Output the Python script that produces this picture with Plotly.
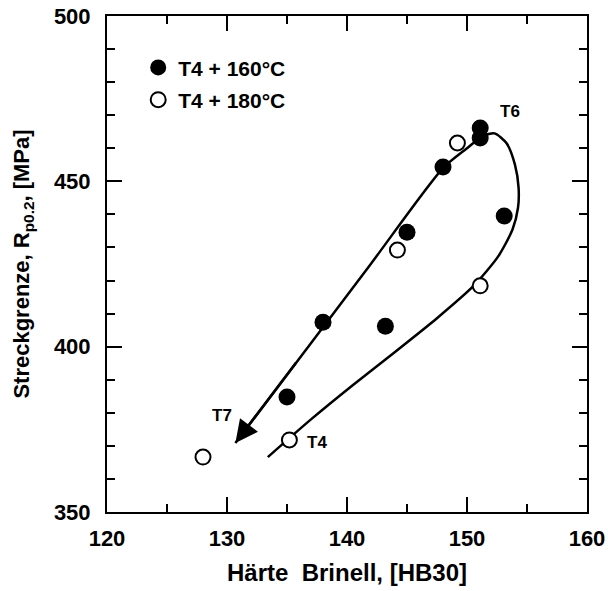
import plotly.graph_objects as go

# --- data ---
hb_160 = [135.0, 138.0, 143.2, 145.0, 148.0, 151.1, 151.1, 153.1]
rp_160 = [384.8, 407.4, 406.2, 434.6, 454.3, 466.1, 463.1, 439.5]

hb_180 = [128.0, 135.2, 144.2, 149.2, 151.1]
rp_180 = [366.6, 371.8, 429.2, 461.6, 418.4]

# guide curve (from T4 around the T6 loop down towards T7; last point = arrow tip)
curve_x = [133.4, 137.0, 140.5, 144.0, 147.5, 150.5, 152.6, 153.8, 154.25,
           154.3, 154.0, 153.3, 152.3, 151.3, 150.0, 148.0, 142.0, 136.0, 130.7]
curve_y = [366.6, 378.0, 388.4, 398.4, 408.6, 418.2, 427.3, 435.5, 442.0,
           448.0, 455.0, 461.5, 464.5, 463.7, 460.0, 454.0, 425.1, 396.3, 370.9]

labels = ["T6", "T7", "T4"]
label_x = [153.6, 129.6, 137.5]
label_y = [471.0, 379.3, 371.0]

FONT = "Liberation Sans, Arial, Helvetica, sans-serif"

fig = go.Figure()

fig.add_trace(go.Scatter(
    x=curve_x, y=curve_y, mode="lines",
    line=dict(color="black", width=2.5, shape="spline", smoothing=0.7),
    showlegend=False, hoverinfo="skip"))

fig.add_trace(go.Scatter(
    x=hb_160, y=rp_160, mode="markers", name="T4 + 160°C", legendgroup="a",
    marker=dict(symbol="circle", size=17, color="black",
                line=dict(color="black", width=0))))

fig.add_trace(go.Scatter(
    x=hb_180, y=rp_180, mode="markers", name="T4 + 180°C", legendgroup="b",
    marker=dict(symbol="circle", size=15, color="white",
                line=dict(color="black", width=2))))

# arrow head at the end of the curve
fig.add_annotation(
    x=curve_x[-1], y=curve_y[-1], ax=curve_x[-2], ay=curve_y[-2],
    xref="x", yref="y", axref="x", ayref="y",
    showarrow=True, arrowhead=2, arrowsize=1.8, arrowwidth=2.5,
    arrowcolor="black", text=" ")

for t, lx, ly in zip(labels, label_x, label_y):
    fig.add_annotation(x=lx, y=ly, xref="x", yref="y", text=t, showarrow=False,
                       font=dict(family=FONT, size=17, color="black", weight="bold"))

axis_common = dict(
    showline=True, linecolor="black", linewidth=2, mirror="ticks",
    ticks="inside", ticklen=15, tickwidth=2, tickcolor="black",
    showgrid=False, zeroline=False, automargin=False,
    ticklabeloverflow="allow",
    tickfont=dict(family=FONT, size=22, color="black", weight="bold"),
)

fig.update_xaxes(
    range=[120, 160], tick0=120, dtick=10,
    minor=dict(dtick=5, ticks="inside", ticklen=8, tickwidth=2, tickcolor="black", showgrid=False),
    title=dict(text="Härte  Brinell, [HB30]", standoff=14,
               font=dict(family=FONT, size=24, color="black", weight="bold")),
    ticklabelstandoff=6,
    **axis_common)

fig.update_yaxes(
    range=[350, 500], tick0=350, dtick=50,
    minor=dict(dtick=10, ticks="inside", ticklen=8, tickwidth=2, tickcolor="black", showgrid=False),
    title=dict(text="Streckgrenze, R<sub>p0.2</sub>, [MPa]", standoff=18,
               font=dict(family=FONT, size=22, color="black", weight="bold")),
    ticklabelstandoff=10,
    **axis_common)

fig.update_layout(
    width=608, height=591,
    margin=dict(l=107, r=21, t=16, b=79),
    plot_bgcolor="white", paper_bgcolor="white",
    showlegend=True, hovermode=False, dragmode=False,
    legend=dict(x=0.065, y=0.937, xanchor="left", yanchor="top",
                bgcolor="rgba(0,0,0,0)", borderwidth=0,
                font=dict(family=FONT, size=21, color="black", weight="bold"),
                itemsizing="trace", traceorder="grouped", tracegroupgap=2),
)

# remove the browser's default 8px body margin so the figure sits at the page origin
fig.write_html("out.html", config={"staticPlot": True, "displayModeBar": False},
               post_script="document.body.style.margin='0px';")
